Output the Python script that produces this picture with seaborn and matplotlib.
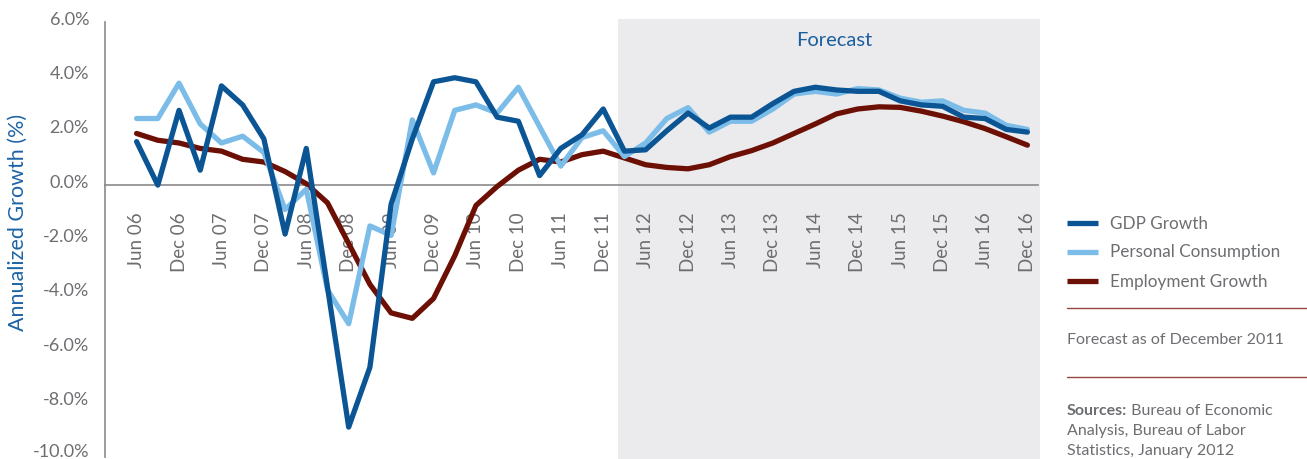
import numpy as np
import pandas as pd
import matplotlib
matplotlib.use("Agg")
import matplotlib.pyplot as plt
from matplotlib.lines import Line2D
from matplotlib.patches import Rectangle
from matplotlib.transforms import ScaledTranslation
import seaborn as sns

# Quarterly annualized growth, Jun 2006 through Dec 2016 (forecast from 2012)
gdp_growth = [1.6, 0.0, 2.75, 0.55, 3.65, 2.95, 1.7, -1.8, 1.35, -3.75,
              -8.9, -6.7, -0.7, 1.7, 3.8, 3.95, 3.8, 2.5, 2.35, 0.35,
              1.35, 1.85, 2.8, 1.25, 1.3, 2.0, 2.65, 2.1, 2.5, 2.5,
              3.0, 3.45, 3.6, 3.5, 3.45, 3.45, 3.1, 2.95, 2.9, 2.5,
              2.45, 2.05, 1.95]
personal_consumption = [2.45, 2.45, 3.75, 2.25, 1.55, 1.8, 1.2, -0.9, -0.15, -3.85,
                        -5.1, -1.5, -1.85, 2.4, 0.45, 2.75, 2.95, 2.65, 3.6, 2.15,
                        0.7, 1.75, 2.0, 1.05, 1.55, 2.45, 2.85, 1.95, 2.35, 2.35,
                        2.8, 3.35, 3.45, 3.35, 3.55, 3.5, 3.2, 3.05, 3.1, 2.75,
                        2.65, 2.2, 2.05]
employment_growth = [1.9, 1.65, 1.55, 1.35, 1.25, 0.95, 0.85, 0.5, 0.05, -0.65,
                     -2.15, -3.65, -4.7, -4.9, -4.17, -2.6, -0.75, -0.05, 0.55, 0.95,
                     0.85, 1.12, 1.25, 1.0, 0.75, 0.65, 0.6, 0.75, 1.05, 1.27,
                     1.55, 1.9, 2.25, 2.62, 2.8, 2.88, 2.86, 2.72, 2.54, 2.33,
                     2.08, 1.78, 1.47]
tick_labels = ["Jun 06", "Dec 06", "Jun 07", "Dec 07", "Jun 08", "Dec 08",
               "Jun 09", "Dec 09", "Jun 10", "Dec 10", "Jun 11", "Dec 11",
               "Jun 12", "Dec 12", "Jun 13", "Dec 13", "Jun 14", "Dec 14",
               "Jun 15", "Dec 15", "Jun 16", "Dec 16"]
series_names = ["GDP Growth", "Personal Consumption", "Employment Growth"]
series_colors = {"GDP Growth": "#0b5595",
                 "Personal Consumption": "#7bbde8",
                 "Employment Growth": "#6c0f04"}
forecast_start = 22.7  # first forecast quarter begins after Dec 11

n = len(gdp_growth)
quarter = np.arange(n)
df = pd.DataFrame({
    "quarter": np.tile(quarter, 3),
    "growth": gdp_growth + personal_consumption + employment_growth,
    "series": np.repeat(series_names, n),
})

sns.set_style("white")
plt.rcParams["font.family"] = ["Lato", "DejaVu Sans"]

W, H = 1307, 459
def fx(px):
    return px / W
def fy(py):
    return 1 - py / H

grey = "#6d6e71"
axis_grey = "#8a8a8c"

fig = plt.figure(figsize=(W / 100, H / 100), dpi=100)
ax = fig.add_axes([fx(105), fy(457), (1038 - 105) / W, (457 - 22) / H])
ax.set_xlim(-1.49, 42.5)
ax.set_ylim(-10, 6)

# forecast band
ax.add_patch(Rectangle((forecast_start, -10.1), 42.58 - forecast_start, 16.2,
                       facecolor="#ebebed", edgecolor="none", zorder=0, clip_on=False))
ax.text(32.9, 5.33, "Forecast", ha="center", va="center", fontsize=14.5, color="#1b5e9e")

sns.lineplot(data=df, x="quarter", y="growth", hue="series",
             hue_order=["Employment Growth", "Personal Consumption", "GDP Growth"],
             palette=series_colors, linewidth=3.8, legend=False, ax=ax, zorder=3)

for s in ["top", "right"]:
    ax.spines[s].set_visible(False)
ax.spines["bottom"].set_position(("data", 0))
for s in ["left", "bottom"]:
    ax.spines[s].set_color(axis_grey)
    ax.spines[s].set_linewidth(1.2)

yt = np.arange(-10, 7, 2)
ax.set_yticks(yt)
ax.set_yticklabels([f"{v:.1f}%" for v in yt])
ax.tick_params(axis="y", direction="in", length=8, width=1.2, color=axis_grey,
               pad=11.5, labelsize=13, labelcolor=grey)
# value labels sit a little above their tick marks
for v, lab in zip(yt, ax.get_yticklabels()):
    up = 6.5 if v == -10 else 4.0
    lab.set_transform(lab.get_transform() + ScaledTranslation(0, up / 100, fig.dpi_scale_trans))

ax.set_xticks(np.arange(-0.5, n, 1), minor=True)
ax.set_xticks(np.arange(0, n, 2))
ax.set_xticklabels(tick_labels, rotation=90)
ax.tick_params(axis="x", which="major", length=0, pad=19.5, labelsize=13.5, labelcolor=grey)
ax.tick_params(axis="x", which="minor", direction="out", length=7.2, width=1.2, color=axis_grey)
ax.set_xlabel("")
ax.set_ylabel("")

fig.text(fx(18), fy(222), "Annualized Growth (%)", rotation=90, ha="center", va="center",
         fontsize=15.5, color="#1e64a6")

# legend
legend_rows = [(223.3, 229.3), (251.8, 257.3), (280.8, 286.7)]
for name, (ly, by) in zip(series_names, legend_rows):
    fig.add_artist(Line2D([fx(1067), fx(1098)], [fy(ly), fy(ly)], lw=3.8,
                          color=series_colors[name], solid_capstyle="butt"))
    fig.text(fx(1110), fy(by), name, ha="left", va="baseline", fontsize=12.3, color=grey)

for sy in (307.7, 376.7):
    fig.add_artist(Line2D([fx(1067), fx(1307)], [fy(sy), fy(sy)], lw=1.0, color="#94463f"))

fig.text(fx(1067), fy(344), "Forecast as of December 2011", ha="left", va="baseline",
         fontsize=11.5, color=grey)

src = fig.text(fx(1067), fy(415), "Sources:", ha="left", va="baseline",
               fontsize=11.5, color=grey, fontweight="bold")
renderer = fig.canvas.get_renderer()
bb = src.get_window_extent(renderer)
fig.text(bb.x1 / W, fy(415), " Bureau of Economic", ha="left", va="baseline",
         fontsize=11.5, color=grey)
fig.text(fx(1067), fy(435), "Analysis, Bureau of Labor", ha="left", va="baseline",
         fontsize=11.5, color=grey)
fig.text(fx(1067), fy(455), "Statistics, January 2012", ha="left", va="baseline",
         fontsize=11.5, color=grey)

fig.savefig("out.png", dpi=100)
